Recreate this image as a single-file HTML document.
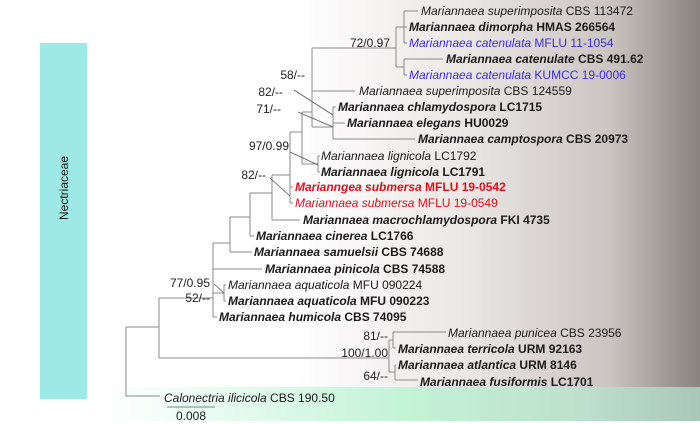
<!DOCTYPE html>
<html><head><meta charset="utf-8"><style>
html,body{margin:0;padding:0;background:#fff;}
svg{display:block;font-family:"Liberation Sans",sans-serif;}
text{font-size:12px;fill:#1a1a1a;}
.b{font-weight:bold;}
.i{font-style:italic;}
.bl{fill:#3b2fe0;}
.rd{fill:#e0101a;}
.l{font-size:12px;fill:#222;}
</style></head><body>
<svg width="700" height="424" viewBox="0 0 700 424" xmlns="http://www.w3.org/2000/svg">
<defs>
<linearGradient id="g1" x1="0" y1="0" x2="1" y2="0">
<stop offset="0" stop-color="#ffffff"/>
<stop offset="0.33" stop-color="#ffffff"/>
<stop offset="0.6" stop-color="#ebe8e6"/>
<stop offset="0.85" stop-color="#cbc5c2"/>
<stop offset="0.97" stop-color="#958f8b"/>
<stop offset="1" stop-color="#8a8480"/>
</linearGradient>
<linearGradient id="g2" x1="0" y1="0" x2="1" y2="0">
<stop offset="0" stop-color="#ffffff"/>
<stop offset="0.15" stop-color="#eefcf6"/>
<stop offset="0.5" stop-color="#c4f4d6"/>
<stop offset="0.8" stop-color="#bde0cb"/>
<stop offset="1" stop-color="#a9c7b9"/>
</linearGradient>
</defs>
<rect x="100" y="0" width="600" height="387" fill="url(#g1)"/>
<rect x="100" y="387" width="600" height="34" fill="url(#g2)"/>
<rect x="40" y="43" width="47" height="356" fill="#9ee9e6"/>
<text x="0" y="0" transform="translate(68,188) rotate(-90)" text-anchor="middle" style="font-size:12px">Nectriaceae</text>

<g stroke="#8a8a8a" stroke-width="1" fill="none">
<!-- root -->
<path d="M126 327V396H160"/>
<path d="M126 327H159"/>
<path d="M159 298V358"/>
<!-- punicea clade -->
<path d="M159 358H389"/>
<path d="M389 340V372"/>
<path d="M389 340H393M393 332V348M393 332H446M393 348H396"/>
<path d="M389 372H395M395 365V380M395 365H396M395 380H418"/>
<!-- B -->
<path d="M159 298H213"/>
<path d="M213 243V317"/>
<path d="M213 269H262"/>
<path d="M213 317H217"/>
<path d="M213 293H224M224 285V301M224 285H226M224 301H226"/>
<path d="M213 243H230"/>
<path d="M230 217V252M230 252H252"/>
<path d="M230 217H250M250 193V236M250 236H254"/>
<path d="M250 193H272M272 175V220M272 220H300"/>
<path d="M272 175H290M290 132V203M290 187H293M290 203H293"/>
<path d="M290 132H302M302 112V164"/>
<path d="M302 164H318M318 156V172M318 156H320M318 172H320"/>
<path d="M302 112H312M312 48V127"/>
<path d="M312 91H355"/>
<path d="M312 127H333M333 107V139M333 107H336M333 123H345M333 139H415"/>
<path d="M312 48H396M396 27V67"/>
<path d="M396 27H404M404 11V43M404 11H418M404 27H407M404 43H407"/>
<path d="M396 67H404M404 59V75M404 59H443M404 75H407"/>
</g>
<g stroke="#555" stroke-width="0.8" fill="none">
<path d="M294 90L333 115"/>
<path d="M298 112L333 127"/>
<path d="M290 152L318 165"/>
<path d="M270 178L290 196"/>
<path d="M214 284L224 293"/>
</g>

<g>
<text x="421" y="15"><tspan class="i">Mariannaea superimposita</tspan> CBS 113472</text>
<text x="409" y="31" class="b"><tspan class="i">Mariannaea dimorpha</tspan> HMAS 266564</text>
<text x="409" y="47" class="bl"><tspan class="i">Mariannaea catenulata</tspan> MFLU 11-1054</text>
<text x="446" y="63" class="b"><tspan class="i">Mariannaea catenulate</tspan> CBS 491.62</text>
<text x="409" y="79" class="bl"><tspan class="i">Mariannaea catenulata</tspan> KUMCC 19-0006</text>
<text x="359" y="95"><tspan class="i">Mariannaea superimposita</tspan> CBS 124559</text>
<text x="338" y="111" class="b"><tspan class="i">Mariannaea chlamydospora</tspan> LC1715</text>
<text x="347" y="127" class="b"><tspan class="i">Mariannaea elegans</tspan> HU0029</text>
<text x="418" y="143" class="b"><tspan class="i">Mariannaea camptospora</tspan> CBS 20973</text>
<text x="321" y="160"><tspan class="i">Mariannaea lignicola</tspan> LC1792</text>
<text x="321" y="176" class="b"><tspan class="i">Mariannaea lignicola</tspan> LC1791</text>
<text x="295" y="191" class="b rd"><tspan class="i">Marianngea submersa</tspan> MFLU 19-0542</text>
<text x="295" y="207" class="rd"><tspan class="i">Mariannaea submersa</tspan> MFLU 19-0549</text>
<text x="303" y="224" class="b"><tspan class="i">Mariannaea macrochlamydospora</tspan> FKI 4735</text>
<text x="256" y="240" class="b"><tspan class="i">Mariannaea cinerea</tspan> LC1766</text>
<text x="254" y="256" class="b"><tspan class="i">Mariannaea samuelsii</tspan> CBS 74688</text>
<text x="265" y="273" class="b"><tspan class="i">Mariannaea pinicola</tspan> CBS 74588</text>
<text x="228" y="289"><tspan class="i">Mariannaea aquaticola</tspan> MFU 090224</text>
<text x="228" y="305" class="b"><tspan class="i">Mariannaea aquaticola</tspan> MFU 090223</text>
<text x="219" y="321" class="b"><tspan class="i">Mariannaea humicola</tspan> CBS 74095</text>
<text x="448" y="337"><tspan class="i">Mariannaea punicea</tspan> CBS 23956</text>
<text x="398" y="353" class="b"><tspan class="i">Mariannaea terricola</tspan> URM 92163</text>
<text x="398" y="369" class="b"><tspan class="i">Mariannaea atlantica</tspan> URM 8146</text>
<text x="420" y="386" class="b"><tspan class="i">Mariannaea fusiformis</tspan> LC1701</text>
<text x="164" y="402"><tspan class="i">Calonectria ilicicola</tspan> CBS 190.50</text>
</g>

<g class="l" text-anchor="end">
<text x="390" y="47" class="l">72/0.97</text>
<text x="305" y="79" class="l">58/--</text>
<text x="283" y="96" class="l">82/--</text>
<text x="281" y="113" class="l">71/--</text>
<text x="289" y="150" class="l">97/0.99</text>
<text x="266" y="179" class="l">82/--</text>
<text x="210" y="287" class="l">77/0.95</text>
<text x="210" y="302" class="l">52/--</text>
<text x="388" y="340" class="l">81/--</text>
<text x="388" y="357" class="l">100/1.00</text>
<text x="388" y="380" class="l">64/--</text>
</g>
<path d="M167 407H215" stroke="#7aa88a" stroke-width="1.2"/>
<text x="176" y="420">0.008</text>
</svg>
</body></html>
